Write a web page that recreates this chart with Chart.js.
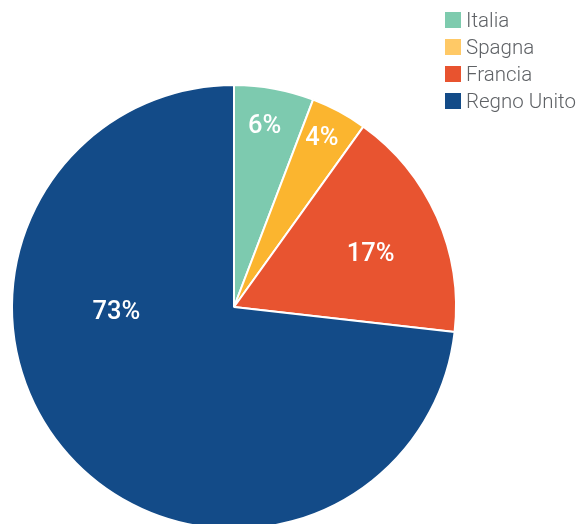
<!DOCTYPE html>
<html><head><meta charset="utf-8">
<script src="https://cdn.jsdelivr.net/npm/chart.js@4/dist/chart.umd.min.js"></script>
<style>
html,body{margin:0;padding:0;background:#fff;overflow:hidden;width:579px;height:524px;}
#wrap{position:relative;width:579px;height:560px;}
#legend{position:absolute;left:445px;top:6px;font-family:Roboto,"Noto Sans",sans-serif;font-size:20.5px;font-weight:300;color:#5f6266;}
#legend div{display:flex;align-items:center;height:27px;white-space:nowrap;}
#legend span.b{display:inline-block;width:16px;height:16px;margin-right:5px;}
</style></head>
<body>
<div id="wrap"><canvas id="c" width="579" height="560"></canvas><div id="legend"></div></div>
<script>
const categories = ["Italia", "Spagna", "Francia", "Regno Unito"];
const values = [5.8, 4.1, 16.9, 73.2];
const valueLabels = ["6%", "4%", "17%", "73%"];
const sliceColors = ["#7DCAAF", "#FBB52F", "#E85430", "#134B88"];
const legendColors = ["#7ECBAE", "#FFC966", "#E8532F", "#134B88"];

// label placement: fraction along slice angle, fraction of radius
const labelPlacement = [[0.46,0.83],[0.44,0.86],[0.545,0.66],[0.65,0.53]];

const lg = document.getElementById('legend');
categories.forEach((c,i)=>{
  const d=document.createElement('div');
  d.innerHTML='<span class="b" style="background:'+legendColors[i]+'"></span>'+c;
  lg.appendChild(d);
});

const labelPlugin = {
  id:'sliceLabels',
  afterDatasetsDraw(chart){
    const ctx=chart.ctx;
    const meta=chart.getDatasetMeta(0);
    ctx.save();
    ctx.fillStyle='#fff';
    ctx.textAlign='center';
    ctx.textBaseline='middle';
    meta.data.forEach((arc,i)=>{
      const p=labelPlacement[i];
      const a=arc.startAngle+(arc.endAngle-arc.startAngle)*p[0];
      const r=arc.outerRadius*p[1];
      const x=arc.x+Math.cos(a)*r, y=arc.y+Math.sin(a)*r;
      ctx.font='500 25.5px Roboto, "Noto Sans", sans-serif';
      ctx.fillText(valueLabels[i],x,y+1);
    });
    ctx.restore();
  }
};

new Chart(document.getElementById('c'),{
  type:'pie',
  data:{labels:categories,datasets:[{data:values,backgroundColor:sliceColors,borderColor:'#fff',borderWidth:2}]},
  options:{
    responsive:false,animation:false,
    layout:{padding:{left:11,top:84,right:122,bottom:30}},
    plugins:{legend:{display:false},tooltip:{enabled:false}}
  },
  plugins:[labelPlugin]
});
</script>
</body></html>
